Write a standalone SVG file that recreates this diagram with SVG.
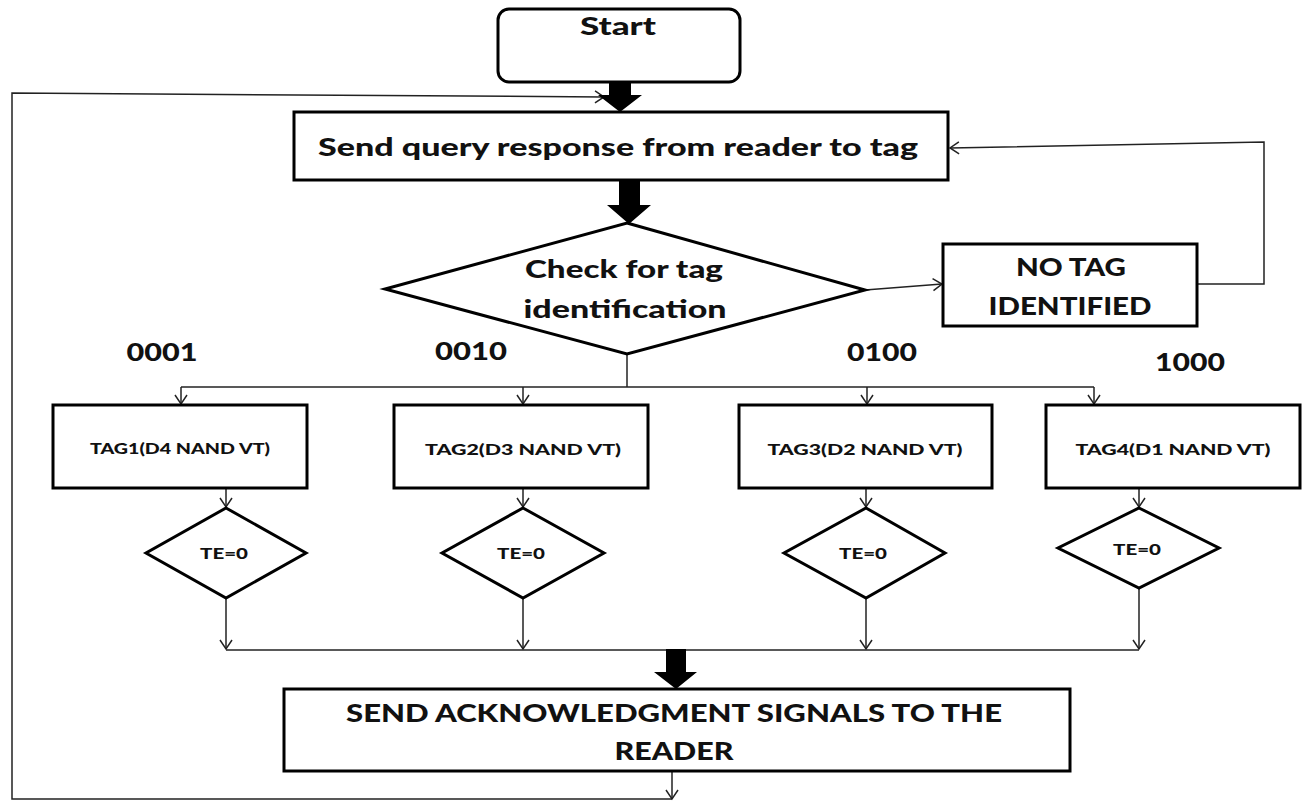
<svg xmlns="http://www.w3.org/2000/svg" width="1308" height="801" viewBox="0 0 1308 801">
  <defs>
    <style>
      .shape { fill: #ffffff; stroke: #000000; stroke-width: 3; }
      .wire { fill: none; stroke: #222222; stroke-width: 1.5; }
      .thick { fill: #000000; stroke: none; }
      .t { font-family: Lato, "Open Sans", "Liberation Sans", sans-serif; font-weight: 900; fill: #111111; text-anchor: middle; }
      .big { font-size: 24px; }
      .small { font-size: 15px; }
    </style>
    <marker id="open" markerWidth="12" markerHeight="14" refX="10" refY="7" orient="auto" markerUnits="userSpaceOnUse">
      <path d="M1,1 L10,7 L1,13" fill="none" stroke="#222222" stroke-width="1.5"/>
    </marker>
  </defs>

  <rect width="1308" height="801" fill="#ffffff"/>

  <!-- connectors -->
  <g id="connectors">
    <!-- exit of the acknowledgment step -->
    <line class="wire" x1="672" y1="771" x2="672" y2="799" marker-end="url(#open)"/>
    <!-- return loop back to the query step -->
    <polyline class="wire" points="672,799 12,799 12,93 604,97" marker-end="url(#open)"/>
    <!-- retry loop from NO TAG IDENTIFIED -->
    <polyline class="wire" points="1197,284 1264,284 1264,142 950,148" marker-end="url(#open)"/>
    <!-- decision to NO TAG -->
    <line class="wire" x1="865" y1="290" x2="942" y2="284" marker-end="url(#open)"/>
    <!-- branch bus -->
    <polyline class="wire" points="627,354 627,387"/>
    <line class="wire" x1="181" y1="387" x2="1094" y2="387"/>
    <line class="wire" x1="181" y1="387" x2="181" y2="404" marker-end="url(#open)"/>
    <line class="wire" x1="523" y1="387" x2="523" y2="404" marker-end="url(#open)"/>
    <line class="wire" x1="867" y1="387" x2="867" y2="404" marker-end="url(#open)"/>
    <line class="wire" x1="1094" y1="387" x2="1094" y2="404" marker-end="url(#open)"/>
    <!-- tag to TE check -->
    <line class="wire" x1="226" y1="488" x2="226" y2="507" marker-end="url(#open)"/>
    <line class="wire" x1="523" y1="488" x2="523" y2="507" marker-end="url(#open)"/>
    <line class="wire" x1="866" y1="488" x2="866" y2="507" marker-end="url(#open)"/>
    <line class="wire" x1="1139" y1="488" x2="1139" y2="507" marker-end="url(#open)"/>
    <!-- TE checks to collector bus -->
    <line class="wire" x1="226" y1="598" x2="226" y2="649" marker-end="url(#open)"/>
    <line class="wire" x1="523" y1="598" x2="523" y2="649" marker-end="url(#open)"/>
    <line class="wire" x1="866" y1="598" x2="866" y2="649" marker-end="url(#open)"/>
    <line class="wire" x1="1139" y1="588" x2="1139" y2="649" marker-end="url(#open)"/>
    <line class="wire" x1="226" y1="650" x2="1139" y2="650"/>
    <!-- block arrows -->
    <polygon class="thick" points="609,81 631,81 631,95 642,95 620,112 598,95 609,95"/>
    <polygon class="thick" points="619,181 640,181 640,205 651,205 629,224 607,205 619,205"/>
    <polygon class="thick" points="666,649 686,649 686,672 697,672 676,689 654,672 666,672"/>
  </g>

  <g id="start">
    <rect class="shape" x="498" y="9" width="242" height="73" rx="11"/>
    <text class="t big" x="618" y="35" textLength="76" lengthAdjust="spacingAndGlyphs">Start</text>
  </g>

  <g id="send-query">
    <rect class="shape" x="294" y="112" width="654" height="68"/>
    <text class="t big" x="618" y="156" textLength="600" lengthAdjust="spacingAndGlyphs">Send query response from reader to tag</text>
  </g>

  <g id="check-tag">
    <polygon class="shape" points="627,223 865,290 627,354 385,289"/>
    <text class="t big" x="624" y="278" textLength="198" lengthAdjust="spacingAndGlyphs">Check for tag</text>
    <text class="t big" x="625" y="318" textLength="203" lengthAdjust="spacingAndGlyphs">identification</text>
  </g>

  <g id="no-tag">
    <rect class="shape" x="943" y="244" width="254" height="82"/>
    <text class="t big" x="1071" y="276" textLength="110" lengthAdjust="spacingAndGlyphs">NO TAG</text>
    <text class="t big" x="1070" y="315" textLength="163" lengthAdjust="spacingAndGlyphs">IDENTIFIED</text>
  </g>

  <g id="codes">
    <text class="t big" x="162" y="361" textLength="71" lengthAdjust="spacingAndGlyphs">0001</text>
    <text class="t big" x="471" y="360" textLength="72" lengthAdjust="spacingAndGlyphs">0010</text>
    <text class="t big" x="882" y="361" textLength="70" lengthAdjust="spacingAndGlyphs">0100</text>
    <text class="t big" x="1190" y="371" textLength="70" lengthAdjust="spacingAndGlyphs">1000</text>
  </g>

  <g id="tag1">
    <rect class="shape" x="53" y="405" width="254" height="83"/>
    <text class="t small" x="180" y="454" textLength="180" lengthAdjust="spacingAndGlyphs">TAG1(D4 NAND VT)</text>
  </g>
  <g id="tag2">
    <rect class="shape" x="394" y="405" width="254" height="83"/>
    <text class="t small" x="523" y="455" textLength="196" lengthAdjust="spacingAndGlyphs">TAG2(D3 NAND VT)</text>
  </g>
  <g id="tag3">
    <rect class="shape" x="739" y="405" width="253" height="83"/>
    <text class="t small" x="865" y="455" textLength="195" lengthAdjust="spacingAndGlyphs">TAG3(D2 NAND VT)</text>
  </g>
  <g id="tag4">
    <rect class="shape" x="1046" y="405" width="254" height="83"/>
    <text class="t small" x="1173" y="455" textLength="195" lengthAdjust="spacingAndGlyphs">TAG4(D1 NAND VT)</text>
  </g>

  <g id="te1">
    <polygon class="shape" points="226,508 306,553 226,598 146,553"/>
    <text class="t small" x="224" y="559" textLength="48" lengthAdjust="spacingAndGlyphs">TE=0</text>
  </g>
  <g id="te2">
    <polygon class="shape" points="523,508 604,553 523,598 442,553"/>
    <text class="t small" x="521" y="559" textLength="48" lengthAdjust="spacingAndGlyphs">TE=0</text>
  </g>
  <g id="te3">
    <polygon class="shape" points="866,508 945,553 866,598 784,553"/>
    <text class="t small" x="863" y="559" textLength="48" lengthAdjust="spacingAndGlyphs">TE=0</text>
  </g>
  <g id="te4">
    <polygon class="shape" points="1139,508 1219,548 1139,588 1058,548"/>
    <text class="t small" x="1137" y="555" textLength="48" lengthAdjust="spacingAndGlyphs">TE=0</text>
  </g>

  <g id="send-ack">
    <rect class="shape" x="284" y="689" width="786" height="82"/>
    <text class="t big" x="674" y="722" textLength="656" lengthAdjust="spacingAndGlyphs">SEND ACKNOWLEDGMENT SIGNALS TO THE</text>
    <text class="t big" x="674" y="760" textLength="119" lengthAdjust="spacingAndGlyphs">READER</text>
  </g>
</svg>
